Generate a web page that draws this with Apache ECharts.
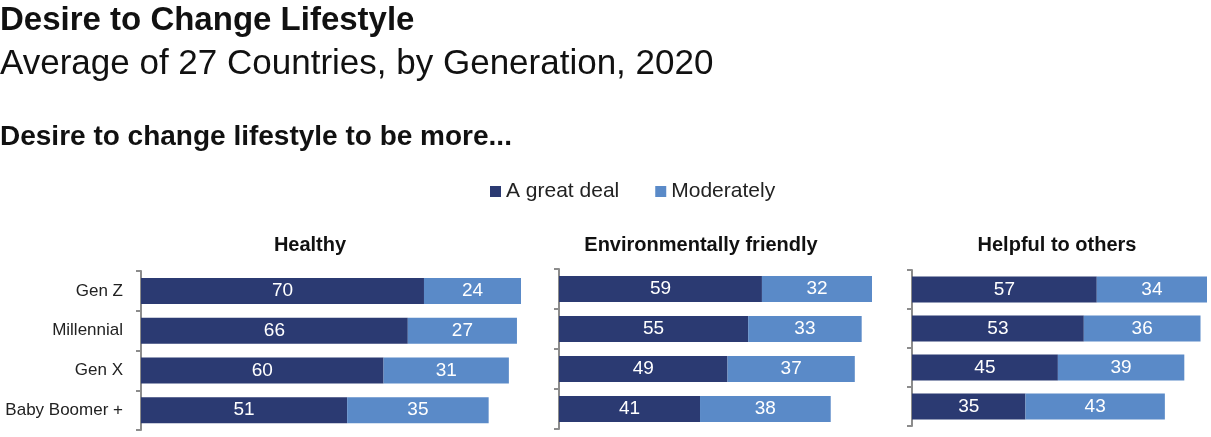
<!DOCTYPE html>
<html><head><meta charset="utf-8">
<script src="https://cdn.jsdelivr.net/npm/echarts@6/dist/echarts.min.js"></script>
<style>html,body{margin:0;padding:0;background:#fff}#c{width:1211px;height:437px}</style>
</head><body><div id="c"></div>
<script>
const categories = ['Gen Z', 'Millennial', 'Gen X', 'Baby Boomer +'];
const panels = ['Healthy', 'Environmentally friendly', 'Helpful to others'];
const seriesNames = ['A great deal', 'Moderately'];
const healthyGreat = [70, 66, 60, 51];
const healthyModerate = [24, 27, 31, 35];
const envGreat = [59, 55, 49, 41];
const envModerate = [32, 33, 37, 38];
const helpGreat = [57, 53, 45, 35];
const helpModerate = [34, 36, 39, 43];

const panelData = [[healthyGreat, healthyModerate], [envGreat, envModerate], [helpGreat, helpModerate]];
const FONT = '"Liberation Sans", Arial, sans-serif';
const colors = ['#2b3a72', '#5a8ac8'];
const grids = [
  {left: 141, width: 380, top: 271, height: 159},
  {left: 559, width: 313, top: 269, height: 160},
  {left: 912, width: 295, top: 270, height: 156}
];
const panelTitleX = [310, 701, 1057];

const chart = echarts.init(document.getElementById('c'));
const xAxis = [], yAxis = [], series = [];
panelData.forEach((pd, i) => {
  const maxSum = Math.max(...pd[0].map((v, k) => v + pd[1][k]));
  xAxis.push({type: 'value', gridIndex: i, min: 0, max: maxSum, show: false});
  yAxis.push({type: 'category', gridIndex: i, data: categories, inverse: true,
    axisLine: {show: true, lineStyle: {color: '#8c8c8c', width: 2}},
    axisTick: {show: true, length: 5, lineStyle: {color: '#8c8c8c', width: 2}},
    axisLabel: {show: i === 0, color: '#222', fontFamily: FONT, fontSize: 17, margin: 18}});
  pd.forEach((vals, s) => {
    series.push({type: 'bar', name: seriesNames[s], xAxisIndex: i, yAxisIndex: i, stack: 'p' + i,
      data: vals, barWidth: 26, itemStyle: {color: colors[s]},
      label: {show: true, position: 'inside', color: '#fff', fontFamily: FONT, fontSize: 19},
      emphasis: {disabled: true}, animation: false});
  });
});

const graphic = [
  {type: 'text', left: 0, top: 4, style: {text: 'Desire to Change Lifestyle', font: 'bold 33px ' + FONT, fill: '#111'}},
  {type: 'text', left: 0, top: 47, style: {text: 'Average of 27 Countries, by Generation, 2020', font: '35px ' + FONT, fill: '#111'}},
  {type: 'text', left: 0, top: 123, style: {text: 'Desire to change lifestyle to be more...', font: 'bold 28px ' + FONT, fill: '#111'}}
];
panels.forEach((p, i) => {
  graphic.push({type: 'text', x: panelTitleX[i], y: 245,
    style: {text: p, font: 'bold 20px ' + FONT, fill: '#111', textAlign: 'center', textVerticalAlign: 'middle'}});
});

chart.setOption({
  animation: false,
  color: colors,
  legend: {data: seriesNames, left: 485, top: 176, itemWidth: 11, itemHeight: 11, itemGap: 36, icon: 'rect',
    textStyle: {fontFamily: FONT, fontSize: 21, color: '#222'}},
  grid: grids.map(g => Object.assign({containLabel: false}, g)),
  xAxis, yAxis, series, graphic
});
</script></body></html>
